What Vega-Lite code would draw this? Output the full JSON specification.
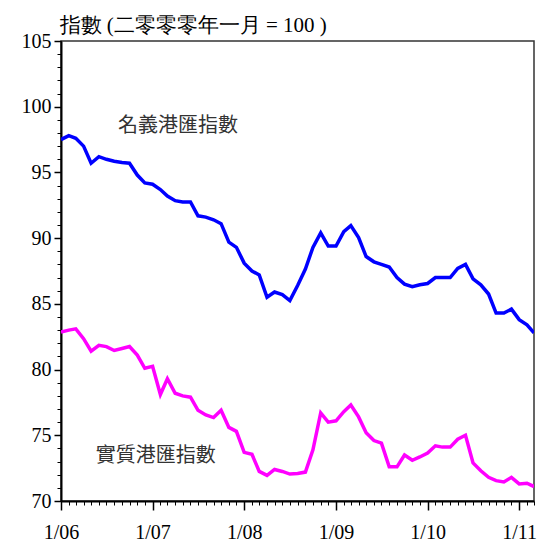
{
  "$schema": "https://vega.github.io/schema/vega-lite/v6.json",
  "autosize": {"type": "none"},
  "padding": {"left": 61, "top": 41, "right": 3, "bottom": 40},
  "width": 473,
  "height": 460,
  "config": {
    "view": {"stroke": "#333", "strokeWidth": 1.5},
    "axis": {"grid": false, "domainColor": "#000", "tickColor": "#000", "labelColor": "#000", "labelFont": "Liberation Serif", "labelFontSize": 20, "titleColor": "#000"}
  },
  "datasets": {
    "idx": [
      {"date":"2006-01-01","s":"n","v":97.5},{"date":"2006-02-01","s":"n","v":97.8},{"date":"2006-03-01","s":"n","v":97.6},{"date":"2006-04-01","s":"n","v":97.0},{"date":"2006-05-01","s":"n","v":95.7},{"date":"2006-06-01","s":"n","v":96.2},{"date":"2006-07-01","s":"n","v":96.0},{"date":"2006-08-01","s":"n","v":95.85},{"date":"2006-09-01","s":"n","v":95.75},{"date":"2006-10-01","s":"n","v":95.7},{"date":"2006-11-01","s":"n","v":94.8},{"date":"2006-12-01","s":"n","v":94.2},
      {"date":"2007-01-01","s":"n","v":94.1},{"date":"2007-02-01","s":"n","v":93.7},{"date":"2007-03-01","s":"n","v":93.2},{"date":"2007-04-01","s":"n","v":92.85},{"date":"2007-05-01","s":"n","v":92.75},{"date":"2007-06-01","s":"n","v":92.75},{"date":"2007-07-01","s":"n","v":91.7},{"date":"2007-08-01","s":"n","v":91.6},{"date":"2007-09-01","s":"n","v":91.4},{"date":"2007-10-01","s":"n","v":91.1},{"date":"2007-11-01","s":"n","v":89.7},{"date":"2007-12-01","s":"n","v":89.3},
      {"date":"2008-01-01","s":"n","v":88.1},{"date":"2008-02-01","s":"n","v":87.5},{"date":"2008-03-01","s":"n","v":87.2},{"date":"2008-04-01","s":"n","v":85.5},{"date":"2008-05-01","s":"n","v":85.9},{"date":"2008-06-01","s":"n","v":85.7},{"date":"2008-07-01","s":"n","v":85.25},{"date":"2008-08-01","s":"n","v":86.4},{"date":"2008-09-01","s":"n","v":87.65},{"date":"2008-10-01","s":"n","v":89.3},{"date":"2008-11-01","s":"n","v":90.4},{"date":"2008-12-01","s":"n","v":89.4},
      {"date":"2009-01-01","s":"n","v":89.4},{"date":"2009-02-01","s":"n","v":90.5},{"date":"2009-03-01","s":"n","v":90.95},{"date":"2009-04-01","s":"n","v":90.05},{"date":"2009-05-01","s":"n","v":88.6},{"date":"2009-06-01","s":"n","v":88.2},{"date":"2009-07-01","s":"n","v":88.0},{"date":"2009-08-01","s":"n","v":87.8},{"date":"2009-09-01","s":"n","v":87.0},{"date":"2009-10-01","s":"n","v":86.5},{"date":"2009-11-01","s":"n","v":86.3},{"date":"2009-12-01","s":"n","v":86.45},
      {"date":"2010-01-01","s":"n","v":86.55},{"date":"2010-02-01","s":"n","v":87.0},{"date":"2010-03-01","s":"n","v":87.0},{"date":"2010-04-01","s":"n","v":87.0},{"date":"2010-05-01","s":"n","v":87.7},{"date":"2010-06-01","s":"n","v":88.0},{"date":"2010-07-01","s":"n","v":86.9},{"date":"2010-08-01","s":"n","v":86.45},{"date":"2010-09-01","s":"n","v":85.75},{"date":"2010-10-01","s":"n","v":84.3},{"date":"2010-11-01","s":"n","v":84.3},{"date":"2010-12-01","s":"n","v":84.6},
      {"date":"2011-01-01","s":"n","v":83.8},{"date":"2011-02-01","s":"n","v":83.4},{"date":"2011-03-01","s":"n","v":82.8},
      {"date":"2006-01-01","s":"r","v":82.85},{"date":"2006-02-01","s":"r","v":83.0},{"date":"2006-03-01","s":"r","v":83.1},{"date":"2006-04-01","s":"r","v":82.35},{"date":"2006-05-01","s":"r","v":81.4},{"date":"2006-06-01","s":"r","v":81.85},{"date":"2006-07-01","s":"r","v":81.75},{"date":"2006-08-01","s":"r","v":81.45},{"date":"2006-09-01","s":"r","v":81.6},{"date":"2006-10-01","s":"r","v":81.75},{"date":"2006-11-01","s":"r","v":81.1},{"date":"2006-12-01","s":"r","v":80.1},
      {"date":"2007-01-01","s":"r","v":80.25},{"date":"2007-02-01","s":"r","v":78.1},{"date":"2007-03-01","s":"r","v":79.3},{"date":"2007-04-01","s":"r","v":78.2},{"date":"2007-05-01","s":"r","v":78.0},{"date":"2007-06-01","s":"r","v":77.9},{"date":"2007-07-01","s":"r","v":76.9},{"date":"2007-08-01","s":"r","v":76.55},{"date":"2007-09-01","s":"r","v":76.35},{"date":"2007-10-01","s":"r","v":76.9},{"date":"2007-11-01","s":"r","v":75.6},{"date":"2007-12-01","s":"r","v":75.3},
      {"date":"2008-01-01","s":"r","v":73.7},{"date":"2008-02-01","s":"r","v":73.55},{"date":"2008-03-01","s":"r","v":72.25},{"date":"2008-04-01","s":"r","v":71.95},{"date":"2008-05-01","s":"r","v":72.4},{"date":"2008-06-01","s":"r","v":72.25},{"date":"2008-07-01","s":"r","v":72.05},{"date":"2008-08-01","s":"r","v":72.1},{"date":"2008-09-01","s":"r","v":72.2},{"date":"2008-10-01","s":"r","v":73.9},{"date":"2008-11-01","s":"r","v":76.7},{"date":"2008-12-01","s":"r","v":76.0},
      {"date":"2009-01-01","s":"r","v":76.1},{"date":"2009-02-01","s":"r","v":76.8},{"date":"2009-03-01","s":"r","v":77.3},{"date":"2009-04-01","s":"r","v":76.4},{"date":"2009-05-01","s":"r","v":75.2},{"date":"2009-06-01","s":"r","v":74.6},{"date":"2009-07-01","s":"r","v":74.4},{"date":"2009-08-01","s":"r","v":72.6},{"date":"2009-09-01","s":"r","v":72.6},{"date":"2009-10-01","s":"r","v":73.5},{"date":"2009-11-01","s":"r","v":73.1},{"date":"2009-12-01","s":"r","v":73.35},
      {"date":"2010-01-01","s":"r","v":73.65},{"date":"2010-02-01","s":"r","v":74.2},{"date":"2010-03-01","s":"r","v":74.1},{"date":"2010-04-01","s":"r","v":74.1},{"date":"2010-05-01","s":"r","v":74.7},{"date":"2010-06-01","s":"r","v":75.0},{"date":"2010-07-01","s":"r","v":72.9},{"date":"2010-08-01","s":"r","v":72.3},{"date":"2010-09-01","s":"r","v":71.8},{"date":"2010-10-01","s":"r","v":71.55},{"date":"2010-11-01","s":"r","v":71.45},{"date":"2010-12-01","s":"r","v":71.8},
      {"date":"2011-01-01","s":"r","v":71.3},{"date":"2011-02-01","s":"r","v":71.35},{"date":"2011-03-01","s":"r","v":71.1}
    ],
    "labels": [
      {"date":"2006-08-16","v":98.55,"t":"名義港匯指數"},
      {"date":"2006-05-19","v":73.4,"t":"實質港匯指數"}
    ]
  },
  "resolve": {"axis": {"y": "independent"}},
  "layer": [
    {
      "data": {"name": "idx"},
      "mark": {"type": "line", "strokeWidth": 3.5, "strokeJoin": "miter", "clip": true},
      "encoding": {
        "x": {"field": "date", "type": "temporal",
              "scale": {"type": "utc", "domain": [{"year":2006,"month":1,"date":1,"utc":true},{"year":2011,"month":3,"date":1,"utc":true}]},
              "axis": {"orient": "bottom", "title": null,
                       "tickCount": {"interval": "month", "step": 1},
                       "labelExpr": "utcmonth(datum.value) == 0 ? utcFormat(datum.value, '%-m/%y') : ''",
                       "tickSize": {"condition": {"test": "utcmonth(datum.value) == 0", "value": 9}, "value": 4},
                       "tickWidth": {"condition": {"test": "utcmonth(datum.value) == 0", "value": 1.5}, "value": 1},
                       "domainWidth": 2, "labelPadding": 12, "labelFlush": false, "labelOverlap": false}},
        "y": {"field": "v", "type": "quantitative",
              "scale": {"domain": [70, 105], "nice": false, "zero": false},
              "axis": {"orient": "left",
                       "values": [70,75,80,85,90,95,100,105],
                       "tickSize": 7, "tickWidth": 1.5,
                       "domainWidth": 2, "labelPadding": 3, "labelOverlap": false,
                       "title": "指數 (二零零零年一月 = 100 )", "titleAngle": 0, "titleAlign": "left", "titleBaseline": "alphabetic",
                       "titleX": -2, "titleY": -10, "titleFont": "Liberation Serif", "titleFontSize": 21, "titleFontWeight": "normal"}},
        "color": {"field": "s", "type": "nominal", "scale": {"domain": ["n","r"], "range": ["#0000FF","#FF00FF"]}, "legend": null}
      }
    },
    {
      "data": {"name": "labels"},
      "mark": {"type": "text", "align": "left", "baseline": "middle", "font": "Noto Sans CJK TC", "fontSize": 20, "color": "#333"},
      "encoding": {
        "x": {"field": "date", "type": "temporal"},
        "y": {"field": "v", "type": "quantitative",
              "axis": {"orient": "left", "title": null, "labels": false, "domain": false, "tickSize": 4, "tickWidth": 1,
                       "values": [70,71,72,73,74,75,76,77,78,79,80,81,82,83,84,85,86,87,88,89,90,91,92,93,94,95,96,97,98,99,100,101,102,103,104,105]}},
        "text": {"field": "t"}
      }
    }
  ]
}
